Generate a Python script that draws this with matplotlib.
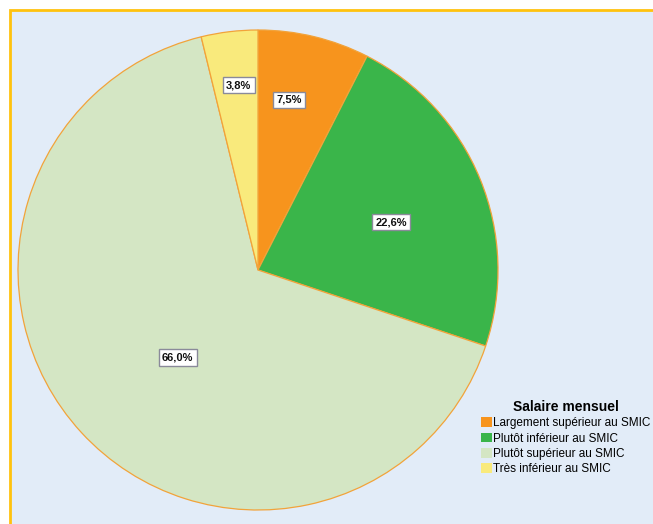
import matplotlib
matplotlib.use("Agg")
import matplotlib.pyplot as plt
import numpy as np
from matplotlib.patches import Rectangle

categories = ["Largement supérieur au SMIC", "Plutôt inférieur au SMIC",
              "Plutôt supérieur au SMIC", "Très inférieur au SMIC"]
values = [7.5, 22.6, 66.0, 3.8]
labels = ["7,5%", "22,6%", "66,0%", "3,8%"]
colors = ["#F7941D", "#3AB54A", "#D4E6C4", "#F9EA7C"]
label_radius = [0.72, 0.59, 0.495, 0.775]
label_angle_shift = [3.2, -2.5, 4.9, -0.9]

plt.rcParams['font.family'] = ['Liberation Sans', 'DejaVu Sans']

W, H = 653, 524
fig = plt.figure(figsize=(W / 100, H / 100), dpi=100)
fig.patch.set_facecolor("white")
bg = Rectangle((10 / W, -0.1), 1.2, (H - 10) / H + 0.1, transform=fig.transFigure,
               facecolor="#E2ECF8", edgecolor="#FFC20E", linewidth=2, zorder=-5)
fig.patches.append(bg)

cx, cy, R = 258, 270, 240
ax = fig.add_axes([(cx - R) / W, (H - cy - R) / H, 2 * R / W, 2 * R / H])
ax.set_zorder(2)
ax.set_facecolor("none")
wedges, _ = ax.pie(values, colors=colors, startangle=90, counterclock=False,
                   radius=1.0, wedgeprops=dict(edgecolor="#F2A33A", linewidth=0.9))
ax.set_xlim(-1, 1)
ax.set_ylim(-1, 1)
ax.set_aspect("equal")
ax.axis("off")

for w, lab, r, da in zip(wedges, labels, label_radius, label_angle_shift):
    ang = np.deg2rad((w.theta1 + w.theta2) / 2 + da)
    ax.text(r * np.cos(ang), r * np.sin(ang), lab, ha="center", va="center",
            fontsize=8, fontweight="bold", color="#111111",
            bbox=dict(boxstyle="square,pad=0.3", facecolor="white",
                      edgecolor="#8A8A9A", linewidth=1.0))

handles = [Rectangle((0, 0), 1, 1, facecolor=c, edgecolor="none") for c in colors]
leg = fig.legend(handles, categories, loc="upper left",
                 bbox_to_anchor=(481 / W, 1 - 400 / H), frameon=False,
                 fontsize=8.5, title="Salaire mensuel",
                 title_fontproperties=dict(weight="bold", size=10),
                 handlelength=0.9, handleheight=0.9, handletextpad=0.1,
                 labelspacing=0.28, borderpad=0, borderaxespad=0)
leg.set_zorder(3)
leg._legend_box.align = "center"

fig.savefig("out.png", dpi=100, facecolor=fig.get_facecolor())
